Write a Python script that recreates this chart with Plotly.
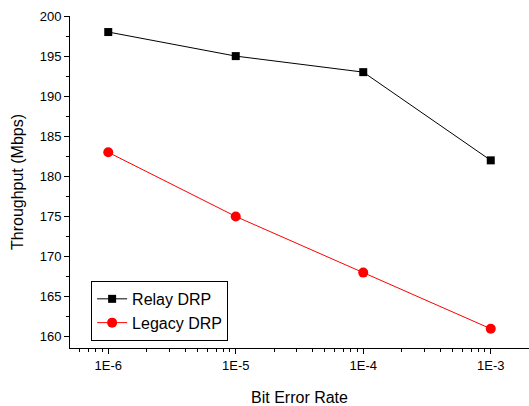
import plotly.graph_objects as go

ber = [1e-6, 1e-5, 1e-4, 1e-3]
relay = [198, 195, 193, 182]
legacy = [183, 175, 168, 161]
tick_vals = [1e-6, 1e-5, 1e-4, 1e-3]
tick_text = ["1E-6", "1E-5", "1E-4", "1E-3"]

fig = go.Figure()
fig.add_trace(go.Scatter(x=ber, y=relay, mode="lines+markers", name="Relay DRP",
                         line=dict(color="black", width=1),
                         marker=dict(symbol="square", size=8, color="black")))
fig.add_trace(go.Scatter(x=ber, y=legacy, mode="lines+markers", name="Legacy DRP",
                         line=dict(color="red", width=1),
                         marker=dict(symbol="circle", size=10, color="red")))

font = "Liberation Sans, Arial, sans-serif"
fig.update_layout(
    width=529, height=406,
    margin=dict(l=70, r=0, t=16, b=58, autoexpand=False),
    paper_bgcolor="white", plot_bgcolor="white",
    font=dict(family=font, color="black", size=13),
    legend=dict(x=0.046, y=0.202, xanchor="left", yanchor="top",
                bordercolor="black", borderwidth=1, bgcolor="white",
                font=dict(size=16), tracegroupgap=0, itemwidth=30),
    showlegend=True,
)
fig.update_xaxes(type="log", range=[-6.3, -2.7], tickvals=tick_vals, ticktext=tick_text,
                 automargin=False,
                 showgrid=False, zeroline=False, showline=True, linecolor="black", linewidth=1,
                 ticks="outside", ticklen=5, tickcolor="black",
                 minor=dict(ticks="outside", ticklen=3, tickcolor="black", dtick="D1", showgrid=False),
                 title=dict(text="Bit Error Rate", font=dict(size=16), standoff=21),
                 tickfont=dict(size=13))
fig.update_yaxes(range=[158.6, 200], dtick=5, tick0=160,
                 automargin=False,
                 showgrid=False, zeroline=False, showline=True, linecolor="black", linewidth=1,
                 ticks="outside", ticklen=5, tickcolor="black",
                 minor=dict(ticks="outside", ticklen=3, tickcolor="black", dtick=2.5, showgrid=False),
                 title=dict(text="Throughput (Mbps)", font=dict(size=16), standoff=12),
                 tickfont=dict(size=13))

fig.write_html("out.html", config={"displayModeBar": False},
               post_script="document.body.style.margin='0';document.body.style.overflow='hidden';")
